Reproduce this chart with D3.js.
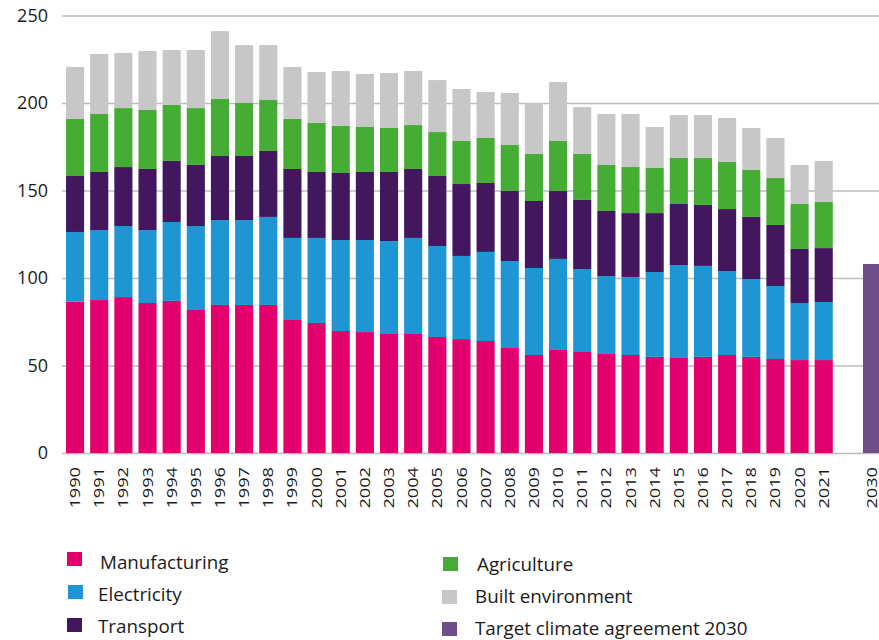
<!DOCTYPE html>
<html>
<head>
<meta charset="utf-8">
<script src="https://cdn.jsdelivr.net/npm/d3@7"></script>
<style>
  html, body { margin: 0; padding: 0; background: #fff; }
  svg { display: block; font-family: "Open Sans", "Noto Sans", sans-serif; }
</style>
</head>
<body>
<svg id="chart" width="879" height="640"></svg>
<script>
// ---- Data ----
const years = ["1990","1991","1992","1993","1994","1995","1996","1997","1998","1999",
  "2000","2001","2002","2003","2004","2005","2006","2007","2008","2009",
  "2010","2011","2012","2013","2014","2015","2016","2017","2018","2019","2020","2021"];
const manufacturing = [86.5,87.4,89.1,85.7,86.9,81.7,84.6,84.6,84.6,76.0,
  74.3,69.7,69.1,68.0,68.0,66.3,65.1,64.0,60.0,56.0,
  58.9,57.7,56.6,56.0,54.9,54.3,54.9,56.0,54.9,53.7,53.1,53.1];
const electricity = [39.8,40.0,40.6,41.7,45.1,48.0,48.5,48.5,50.3,46.9,
  48.6,52.0,52.6,53.1,54.9,52.0,47.5,50.9,49.7,49.7,
  52.0,47.4,44.5,44.6,48.5,53.1,52.0,48.0,44.5,41.7,32.6,33.2];
const transport = [32.0,33.2,33.7,34.9,34.9,34.9,36.6,36.6,37.7,39.4,
  37.7,38.3,38.9,39.5,39.4,40.0,41.1,39.4,40.0,38.3,
  38.8,39.5,37.2,36.5,33.7,34.9,34.8,35.4,35.5,34.9,30.9,30.8];
const agriculture = [32.6,33.1,33.7,33.7,32.0,32.5,32.6,30.3,29.1,28.6,
  28.0,26.9,25.7,25.1,25.1,25.1,24.6,25.7,26.3,26.9,
  28.6,26.3,26.3,26.3,25.8,26.3,26.9,26.9,26.8,26.8,25.7,26.3];
const builtEnvironment = [29.7,34.3,31.5,33.7,31.4,33.2,38.8,33.1,31.4,29.7,
  29.1,31.4,30.3,31.4,30.9,29.7,29.7,26.3,29.7,29.1,
  33.7,26.8,29.1,30.3,23.4,24.5,24.5,25.1,24.0,22.9,22.3,23.5];
const targetYear = "2030";
const targetValue = 108;
const yTicks = [0, 50, 100, 150, 200, 250];

const seriesNames = ["Manufacturing","Electricity","Transport","Agriculture","Built environment"];
const seriesColors = ["#e2006e","#1d96d3","#43175d","#45ad34","#c6c7c6"];
const targetLabel = "Target climate agreement 2030";
const targetColor = "#704f88";

// ---- Setup ----
const svg = d3.select("#chart");
const W = 879;
const slots = years.concat(["gap", targetYear]);

const x = d3.scaleBand().domain(slots).range([63, 63 + slots.length * 24.15])
  .paddingInner(0.25).paddingOuter(0.125);
const y = d3.scaleLinear().domain([0, 250]).range([453, 15.5]);

// gridlines + y labels
const yAxis = svg.append("g").attr("transform", "translate(62,0)")
  .call(d3.axisLeft(y).tickValues(yTicks).tickSize(-(W - 62)).tickPadding(14).tickFormat(d3.format("d")));
yAxis.select(".domain").remove();
yAxis.selectAll(".tick line").attr("stroke", "#bdbdbd").attr("stroke-width", 1.6);
yAxis.selectAll(".tick text").attr("font-size", 18).attr("fill", "#1a1a1a")
  .attr("font-family", "'Open Sans', sans-serif");

// stacked data
const table = years.map((yr, i) => ({
  year: yr,
  Manufacturing: manufacturing[i],
  Electricity: electricity[i],
  Transport: transport[i],
  Agriculture: agriculture[i],
  "Built environment": builtEnvironment[i]
}));
const stacked = d3.stack().keys(seriesNames)(table);

const barsG = svg.append("g");
stacked.forEach((layer, k) => {
  barsG.append("g").attr("fill", seriesColors[k])
    .selectAll("rect").data(layer).join("rect")
    .attr("x", d => x(d.data.year))
    .attr("width", x.bandwidth())
    .attr("y", d => y(d[1]))
    .attr("height", d => y(d[0]) - y(d[1]));
});

// target bar
barsG.append("rect")
  .attr("fill", targetColor)
  .attr("x", x(targetYear))
  .attr("width", x.bandwidth())
  .attr("y", y(targetValue))
  .attr("height", y(0) - y(targetValue));

// x labels (stretched along the text direction, as in the reference)
const stretch = 1.3;
const xAxis = svg.append("g").attr("transform", "translate(0,453)")
  .call(d3.axisBottom(x).tickValues(years.concat([targetYear])).tickSize(0).tickPadding(0));
xAxis.select(".domain").remove();
xAxis.selectAll(".tick text")
  .attr("font-size", 14).attr("fill", "#1a1a1a")
  .attr("font-family", "'Open Sans', sans-serif")
  .attr("transform", `rotate(-90) scale(${stretch},1)`)
  .attr("text-anchor", "end")
  .attr("x", -14 / stretch).attr("y", 0).attr("dy", "0.36em");

// legend
const legendItems = [
  {name: seriesNames[0], color: seriesColors[0], sx: 67, sy: 552, tx: 100, ty: 569},
  {name: seriesNames[1], color: seriesColors[1], sx: 68, sy: 585, tx: 98, ty: 601},
  {name: seriesNames[2], color: seriesColors[2], sx: 67, sy: 618, tx: 98, ty: 633},
  {name: seriesNames[3], color: seriesColors[3], sx: 443, sy: 557, tx: 477, ty: 571},
  {name: seriesNames[4], color: seriesColors[4], sx: 442, sy: 590, tx: 475, ty: 603},
  {name: targetLabel, color: targetColor, sx: 442, sy: 622, tx: 475, ty: 635}
];
const lg = svg.append("g");
legendItems.forEach(it => {
  lg.append("rect").attr("x", it.sx).attr("y", it.sy).attr("width", 15).attr("height", 14).attr("fill", it.color);
  lg.append("text").attr("x", it.tx).attr("y", it.ty).attr("font-size", 18.8)
    .attr("fill", "#1a1a1a").text(it.name);
});
</script>
</body>
</html>
